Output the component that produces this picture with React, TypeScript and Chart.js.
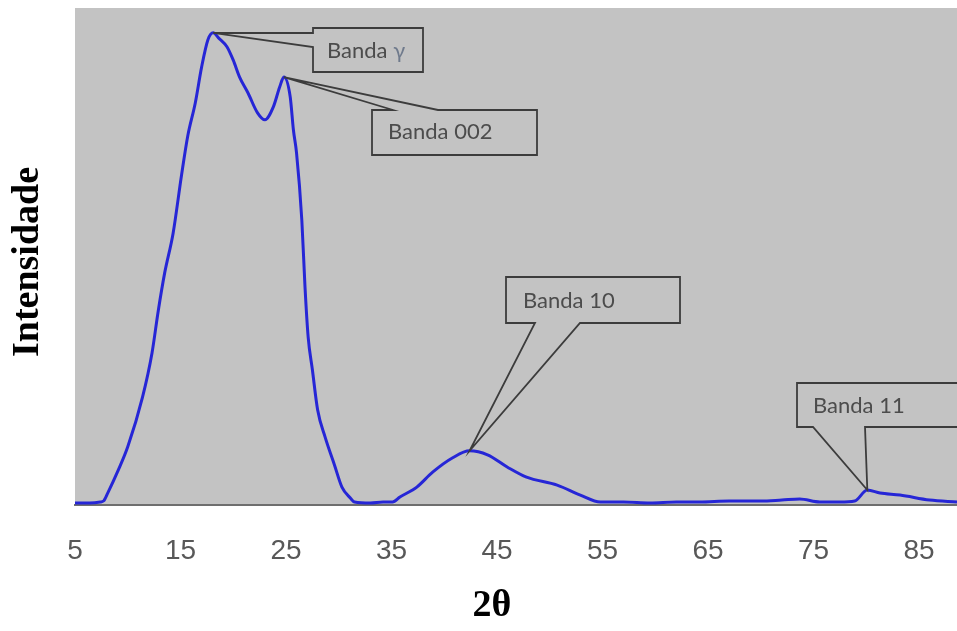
import React, { useEffect, useRef } from "react";
import { Chart, registerables } from "chart.js";

Chart.register(...registerables);

// ---- data ----
const twoTheta = [
  5.0, 6.4, 7.4, 7.7, 8.1, 9.1, 10.0, 11.4, 12.3, 12.9, 13.5, 14.3, 15.1, 15.7,
  16.4, 17.0, 17.6, 18.1, 18.6, 19.4, 20.0, 20.6, 21.4, 22.3, 23.0, 23.8, 24.4,
  24.8, 25.4, 25.7, 26.0, 26.5, 26.8, 27.1, 27.5, 28.0, 28.7, 29.6, 30.3, 31.1,
  31.5, 33.0, 34.2, 35.1, 35.8, 37.4, 38.9, 40.8, 42.4, 44.1, 46.0, 47.8, 50.7,
  52.9, 54.8, 57.0, 59.5, 62.0, 64.2, 67.0, 70.0, 72.0, 73.7, 75.6, 77.5, 78.9,
  80.1, 81.3, 83.2, 86.0, 88.6,
];
const intensity = [
  0.4, 0.4, 0.6, 0.8, 2.4, 7.0, 11.7, 21.7, 30.6, 39.2, 46.7, 54.7, 66.4, 74.4,
  80.9, 88.1, 93.6, 95.0, 94.0, 92.2, 89.5, 86.1, 82.9, 78.9, 77.5, 80.1, 84.1,
  86.1, 82.1, 75.5, 70.8, 57.3, 43.9, 33.8, 27.2, 19.1, 13.7, 8.0, 3.6, 1.4,
  0.6, 0.4, 0.6, 0.6, 1.6, 3.6, 6.6, 9.5, 10.9, 10.1, 7.6, 5.6, 4.0,
  2.0, 0.6, 0.6, 0.4, 0.6, 0.6, 0.8, 0.8, 1.0, 1.2, 0.6, 0.6, 0.8,
  3.0, 2.4, 2.0, 1.0, 0.6,
];
const xTickValues = [5, 15, 25, 35, 45, 55, 65, 75, 85];
const xTitle = "2θ";
const yTitle = "Intensidade";

const bandLabels = ["Banda γ", "Banda 002", "Banda 10", "Banda 11"];
const bandTwoTheta = [18.1, 24.8, 42.4, 80.1];
const bandIntensity = [95.0, 86.1, 10.9, 3.0];

// ---- callout geometry (layout, px) ----
const calloutBoxes = [
  { x1: 313, y1: 28, x2: 423, y2: 72, side: "left", a: 33, b: 47, tx: 327, ty: 51 },
  { x1: 372, y1: 110, x2: 537, y2: 155, side: "top", a: 393, b: 438, tx: 388, ty: 132 },
  { x1: 506, y1: 277, x2: 680, y2: 323, side: "bottom", a: 535, b: 580, tx: 523, ty: 301 },
  { x1: 797, y1: 383, x2: 975, y2: 427, side: "bottom", a: 813, b: 865, tx: 813, ty: 406 },
];

const PLOT_BG = "#c3c3c3";

const bgPlugin = {
  id: "plotBg",
  beforeDraw(chart: any) {
    const { ctx, chartArea } = chart;
    ctx.save();
    ctx.fillStyle = PLOT_BG;
    ctx.fillRect(chartArea.left, chartArea.top, chartArea.right - chartArea.left, chartArea.bottom - chartArea.top);
    ctx.restore();
  },
};

const overlayPlugin = {
  id: "overlay",
  afterDraw(chart: any) {
    const { ctx } = chart;
    const xs = chart.scales.x;
    const ys = chart.scales.y;
    ctx.save();
    // callouts
    calloutBoxes.forEach((b, i) => {
      const px = xs.getPixelForValue(bandTwoTheta[i]);
      const py = ys.getPixelForValue(bandIntensity[i]);
      ctx.beginPath();
      ctx.moveTo(b.x1, b.y1);
      if (b.side === "top") {
        ctx.lineTo(b.a, b.y1);
        ctx.lineTo(px, py);
        ctx.lineTo(b.b, b.y1);
      }
      ctx.lineTo(b.x2, b.y1);
      ctx.lineTo(b.x2, b.y2);
      if (b.side === "bottom") {
        ctx.lineTo(b.b, b.y2);
        ctx.lineTo(px, py);
        ctx.lineTo(b.a, b.y2);
      }
      ctx.lineTo(b.x1, b.y2);
      if (b.side === "left") {
        ctx.lineTo(b.x1, b.b);
        ctx.lineTo(px, py);
        ctx.lineTo(b.x1, b.a);
      }
      ctx.closePath();
      ctx.strokeStyle = "#3c3c3c";
      ctx.lineWidth = 1.8;
      ctx.lineJoin = "miter";
      ctx.stroke();

      ctx.font = '22px Lato, "Open Sans", sans-serif';
      ctx.textBaseline = "middle";
      ctx.textAlign = "left";
      ctx.fillStyle = "#4c4c4c";
      const label = bandLabels[i];
      if (label.endsWith("γ")) {
        const base = label.slice(0, -1);
        ctx.fillText(base, b.tx, b.ty);
        const w = ctx.measureText(base).width;
        ctx.fillStyle = "#6f7a8c";
        ctx.fillText("γ", b.tx + w, b.ty);
      } else {
        ctx.fillText(label, b.tx, b.ty);
      }
    });

    // axis titles
    ctx.fillStyle = "#000";
    ctx.font = 'bold 38px "Liberation Serif", "Times New Roman", serif';
    ctx.textAlign = "center";
    ctx.textBaseline = "middle";
    ctx.fillText(xTitle, 492, 606);
    ctx.translate(28, 262);
    ctx.rotate(-Math.PI / 2);
    ctx.fillText(yTitle, 0, 0);
    ctx.restore();
  },
};

export default function App() {
  const canvasRef = useRef<HTMLCanvasElement | null>(null);

  useEffect(() => {
    const canvas = canvasRef.current;
    if (!canvas) return;
    const points = twoTheta.map((x, i) => ({ x, y: intensity[i] }));
    const chart = new Chart(canvas, {
      type: "line",
      data: {
        datasets: [
          {
            data: points,
            borderColor: "#2626d6",
            borderWidth: 3,
            pointRadius: 0,
            fill: false,
            cubicInterpolationMode: "monotone",
          },
        ],
      },
      options: {
        animation: false,
        responsive: false,
        events: [],
        layout: { padding: { left: 75, top: 8, right: 0, bottom: 0 } },
        plugins: { legend: { display: false }, tooltip: { enabled: false } },
        scales: {
          x: {
            type: "linear",
            min: 5,
            max: 88.6,
            afterBuildTicks: (s: any) => {
              s.ticks = xTickValues.map((v) => ({ value: v }));
            },
            afterFit: (s: any) => {
              s.height = 126;
              s.paddingLeft = 0;
              s.paddingRight = 0;
            },
            grid: { display: false, drawTicks: false },
            border: { display: true, color: "#6e6e6e", width: 2 },
            ticks: {
              autoSkip: false,
              maxRotation: 0,
              padding: 29,
              color: "#585858",
              font: { family: '"Liberation Sans", Arial, sans-serif', size: 28 },
            },
          },
          y: { display: false, min: 0, max: 100 },
        },
      } as any,
      plugins: [bgPlugin, overlayPlugin],
    });
    return () => chart.destroy();
  }, []);

  return (
    <div style={{ position: "fixed", left: 0, top: 0, width: 957, height: 631, background: "#fff" }}>
      <canvas ref={canvasRef} width={957} height={631} style={{ display: "block", width: 957, height: 631 }} />
    </div>
  );
}
